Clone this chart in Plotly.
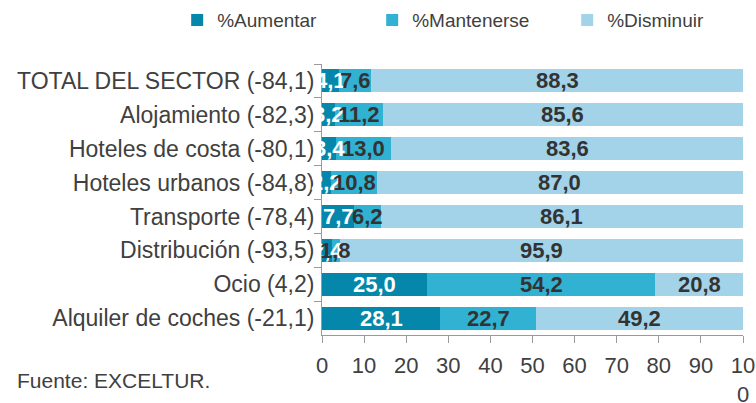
import plotly.graph_objects as go

categories = ["TOTAL DEL SECTOR (-84,1)", "Alojamiento (-82,3)", "Hoteles de costa (-80,1)",
              "Hoteles urbanos (-84,8)", "Transporte (-78,4)", "Distribución (-93,5)",
              "Ocio (4,2)", "Alquiler de coches (-21,1)"]
aumentar = [4.1, 3.2, 3.4, 2.2, 7.7, 2.4, 25.0, 28.1]
mantenerse = [7.6, 11.2, 13.0, 10.8, 6.2, 1.8, 54.2, 22.7]
disminuir = [88.3, 85.6, 83.6, 87.0, 86.1, 95.9, 20.8, 49.2]
series_names = ["%Aumentar", "%Mantenerse", "%Disminuir"]
tick_vals = [0, 10, 20, 30, 40, 50, 60, 70, 80, 90, 100]
tick_text = ["0", "10", "20", "30", "40", "50", "60", "70", "80", "90", "10<br>0"]

colors = ["#0487AA", "#32B2D3", "#A2D3E8"]
label_colors = ["#FFFFFF", "#333333", "#333333"]
FONT = "Liberation Sans, Arial, sans-serif"

fig = go.Figure()
series = [aumentar, mantenerse, disminuir]
for name, vals, col in zip(series_names, series, colors):
    fig.add_trace(go.Bar(y=categories, x=vals, name=name, orientation="h",
                         marker=dict(color=col, line=dict(width=0)), width=0.68,
                         hoverinfo="x+y"))

annotations = []
for vals_idx, vals in enumerate(series):
    for i, cat in enumerate(categories):
        base = sum(series[k][i] for k in range(vals_idx))
        annotations.append(dict(x=base + vals[i] / 2, y=cat, xref="x", yref="y",
                                text=f"{vals[i]:.1f}".replace(".", ","), showarrow=False,
                                font=dict(family=FONT, size=22, color=label_colors[vals_idx], weight="bold"),
                                xanchor="center", yanchor="middle"))
annotations.append(dict(x=(15 - 322) / 421, y=(335 - 380) / 271, xref="paper", yref="paper",
                        text="Fuente: EXCELTUR.", showarrow=False,
                        font=dict(family=FONT, size=21, color="#404040"),
                        xanchor="left", yanchor="middle"))

fig.update_layout(
    barmode="stack",
    width=756, height=403,
    margin=dict(l=322, r=13, t=64, b=68, autoexpand=False),
    paper_bgcolor="white", plot_bgcolor="white",
    font=dict(family=FONT, color="#404040"),
    legend=dict(orientation="h", x=-0.344, xanchor="left", y=1.162, yanchor="middle",
                font=dict(family=FONT, size=19, color="#404040"),
                entrywidth=150, entrywidthmode="pixels", traceorder="normal"),
    annotations=annotations,
)

fig.update_xaxes(range=[0, 100], tickvals=tick_vals, ticktext=tick_text, showgrid=False,
                 zeroline=False, showline=True, linecolor="#9A9A9A", linewidth=1,
                 ticks="outside", ticklen=7, tickcolor="#9A9A9A",
                 tickfont=dict(family=FONT, size=22, color="#404040"), ticklabelstandoff=4,
                 automargin=False)
fig.update_yaxes(autorange="reversed", showgrid=False, zeroline=False, showline=True,
                 linecolor="#9A9A9A", linewidth=1, ticks="outside", ticklen=7,
                 tickcolor="#9A9A9A", tickson="boundaries",
                 tickfont=dict(family=FONT, size=23, color="#404040"), ticklabelstandoff=2,
                 automargin=False)

fig.write_html("out.html", config={"displayModeBar": False},
               post_script="document.body.style.margin='0';document.body.style.overflow='hidden';")
